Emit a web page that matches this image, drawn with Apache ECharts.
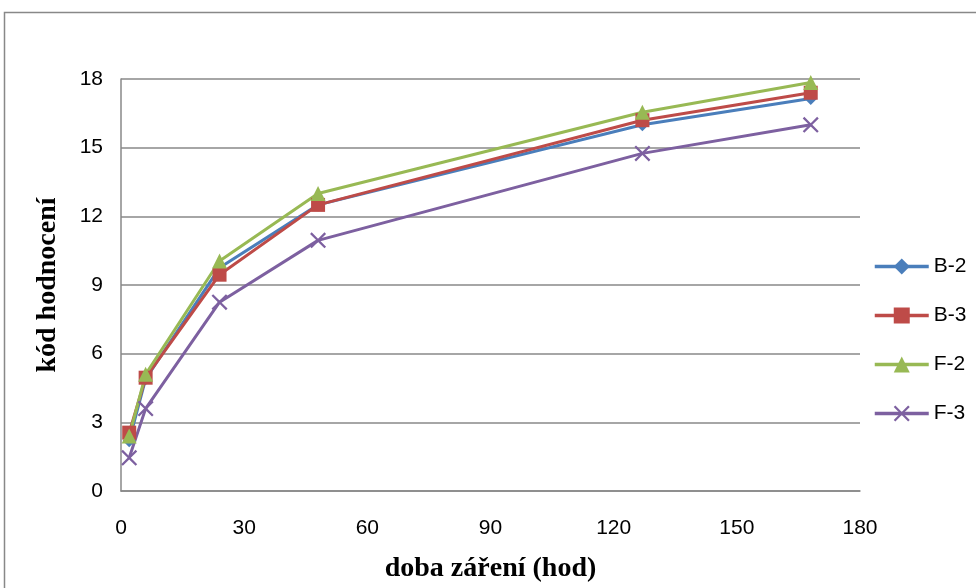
<!DOCTYPE html>
<html><head><meta charset="utf-8">
<script src="https://cdn.jsdelivr.net/npm/echarts@6/dist/echarts.min.js"></script>
<style>html,body{margin:0;padding:0;background:#fff;overflow:hidden}#c{width:976px;height:588px}</style>
</head><body><div id="c"></div>
<script>
const hours = [2, 6, 24, 48, 127, 168];
const seriesNames = ['B-2', 'B-3', 'F-2', 'F-3'];
const b2 = [2.2, 4.9, 9.75, 12.5, 16.0, 17.15];
const b3 = [2.55, 4.95, 9.45, 12.5, 16.2, 17.4];
const f2 = [2.4, 5.1, 10.05, 13.0, 16.55, 17.85];
const f3 = [1.45, 3.6, 8.25, 10.95, 14.75, 16.0];
const xTicks = [0, 30, 60, 90, 120, 150, 180];
const yTicks = [0, 3, 6, 9, 12, 15, 18];

const colors = ['#4A7EBB', '#BE4B48', '#98B954', '#7D60A0'];
const symbols = ['diamond', 'rect', 'triangle',
  'path://M0,1 L1,0 L5,4 L9,0 L10,1 L6,5 L10,9 L9,10 L5,6 L1,10 L0,9 L4,5 Z'];
const sizes = [13, 14, 15, 16];
const values = [b2, b3, f2, f3];

const chart = echarts.init(document.getElementById('c'), null, {width: 976, height: 588});
chart.setOption({
  animation: false,
  graphic: [{type: 'rect', shape: {x: 4.5, y: 12.5, width: 1000, height: 700},
    style: {fill: 'none', stroke: '#888', lineWidth: 1.5}, silent: true}],
  grid: {left: 121, top: 79, width: 739, height: 415},
  legend: {
    orient: 'vertical', left: 868, top: 251, itemWidth: 54, itemHeight: 20, itemGap: 28,
    lineStyle: {width: 3.5},
    textStyle: {fontFamily: 'Liberation Sans', fontSize: 21, lineHeight: 20, color: '#000'},
    data: seriesNames
  },
  xAxis: {
    type: 'value', min: 0, max: 180, interval: 30,
    name: 'doba záření (hod)', nameLocation: 'middle', nameGap: 64,
    nameTextStyle: {fontFamily: 'Liberation Serif', fontWeight: 'bold', fontSize: 28, color: '#000'},
    axisLine: {lineStyle: {color: '#888', width: 1.5}},
    axisTick: {show: false},
    splitLine: {show: false},
    axisLabel: {margin: 27, fontFamily: 'Liberation Sans', fontSize: 21, color: '#000',
      formatter: v => xTicks.includes(v) ? String(v) : ''}
  },
  yAxis: {
    type: 'value', min: 0, max: 18, interval: 3,
    name: 'kód hodnocení', nameLocation: 'middle', nameGap: 59,
    nameTextStyle: {fontFamily: 'Liberation Serif', fontWeight: 'bold', fontSize: 28, color: '#000'},
    axisLine: {show: true, lineStyle: {color: '#888', width: 1.5}},
    axisTick: {show: false},
    splitLine: {lineStyle: {color: '#888', width: 1.5}},
    axisLabel: {margin: 18, fontFamily: 'Liberation Sans', fontSize: 21, color: '#000',
      formatter: v => yTicks.includes(v) ? String(v) : ''}
  },
  series: seriesNames.map((n, i) => ({
    name: n, type: 'line',
    data: hours.map((h, j) => [h, values[i][j]]),
    symbol: symbols[i], symbolSize: sizes[i], showAllSymbol: true,
    lineStyle: {width: 3, color: colors[i]},
    itemStyle: {color: colors[i]}
  }))
});
</script></body></html>
